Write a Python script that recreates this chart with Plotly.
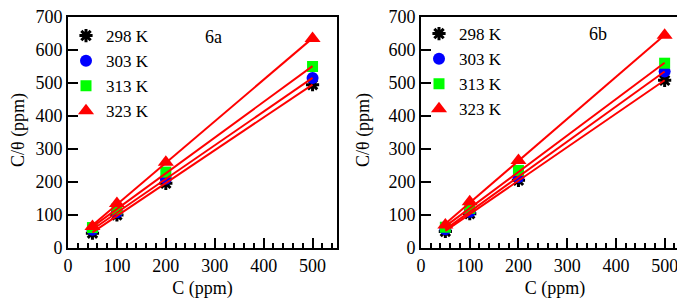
import numpy as np
import plotly.graph_objects as go

conc = [50, 100, 200, 500]
temps = ["298 K", "303 K", "313 K", "323 K"]

# panel 6a: C/theta values per temperature
a_298 = [45, 100, 196, 495]
a_303 = [55, 108, 210, 515]
a_313 = [62, 118, 230, 550]
a_323 = [65, 135, 260, 635]

# panel 6b
b_298 = [50, 104, 205, 508]
b_303 = [57, 110, 215, 535]
b_313 = [63, 120, 235, 560]
b_323 = [70, 140, 265, 645]

panels = [[a_298, a_303, a_313, a_323], [b_298, b_303, b_313, b_323]]
panel_labels = ["6a", "6b"]
label_pos = [(298, 639), (364, 648)]
x_title = "C (ppm)"
y_title = "C/θ (ppm)"
fit_range = [50, 500]

symbols = ["asterisk-open", "circle", "square", "triangle-up"]
colors = ["black", "#0000ff", "#00ff00", "#ff0000"]
sizes = [11, 12, 11, 14]

FONT = "Liberation Serif"

fig = go.Figure()

xdomains = [[60/685, 329/685], [413/685, 681/685]]
ydomain = [1-240/300, 1-9/300]
ytitle_x = [10/685, 355/685]

for p, series in enumerate(panels):
    xa = "x" if p == 0 else "x2"
    ya = "y" if p == 0 else "y2"
    lg = "legend" if p == 0 else "legend2"
    for i, vals in enumerate(series):
        mk = dict(symbol=symbols[i], color=colors[i], size=sizes[i])
        if i == 0:
            mk["line"] = dict(color="black", width=3)
        else:
            mk["line"] = dict(width=0)
        fig.add_trace(go.Scatter(x=conc, y=vals, mode="markers", name=temps[i],
                                 marker=mk, xaxis=xa, yaxis=ya, legend=lg))
    for i, vals in enumerate(series):
        k, b0 = np.polyfit(conc, vals, 1)
        xs = np.array(fit_range, dtype=float)
        fig.add_trace(go.Scatter(x=xs, y=k*xs+b0, mode="lines",
                                 line=dict(color="#ff0000", width=2),
                                 showlegend=False, hoverinfo="skip",
                                 xaxis=xa, yaxis=ya))

axis_common = dict(showline=True, linecolor="black", linewidth=2, mirror=True,
                   ticks="inside", tickcolor="black", tickwidth=2,
                   showgrid=False, zeroline=False, automargin=False,
                   ticklabeloverflow="allow",
                   tickfont=dict(family=FONT, size=18, color="black"))

for p in range(2):
    sx = "" if p == 0 else "2"
    fig.update_layout(**{
        "xaxis" + sx: dict(domain=xdomains[p], anchor="y" + sx, range=[0, 550],
                           dtick=100, tick0=0, ticklen=10,
                           minor=dict(dtick=20, tick0=0, ticklen=5, ticks="inside",
                                      tickcolor="black", tickwidth=2),
                           title=dict(text=x_title, font=dict(family=FONT, size=18, color="black"),
                                      standoff=7),
                           **axis_common),
        "yaxis" + sx: dict(domain=ydomain, anchor="x" + sx, range=[0, 700],
                           dtick=100, tick0=0, ticklen=10,
                           **axis_common),
    })
    fig.add_annotation(x=ytitle_x[p], y=1-122/300, xref="paper", yref="paper",
                       xanchor="center", yanchor="middle",
                       text=y_title, textangle=-90, showarrow=False,
                       font=dict(family=FONT, size=18, color="black"))

leg_common = dict(font=dict(family=FONT, size=17, color="black"), bgcolor="rgba(0,0,0,0)",
                  xanchor="left", yanchor="top", tracegroupgap=0, itemwidth=30)
fig.update_layout(
    legend=dict(x=58/685, y=1-10/300, **leg_common),
    legend2=dict(x=411/685, y=1-8/300, **leg_common),
)

for p in range(2):
    sx = "" if p == 0 else "2"
    fig.add_annotation(x=label_pos[p][0], y=label_pos[p][1], xref="x" + sx, yref="y" + sx,
                       text=panel_labels[p], showarrow=False,
                       font=dict(family=FONT, size=18, color="black"))

fig.update_layout(width=685, height=300, margin=dict(l=0, r=0, t=0, b=0),
                  plot_bgcolor="white", paper_bgcolor="white", showlegend=True)

fig.write_html("out.html")
